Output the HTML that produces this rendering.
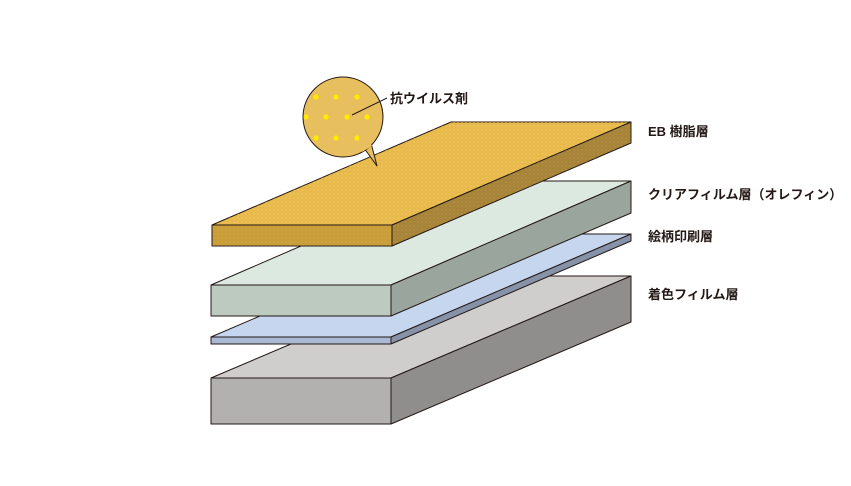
<!DOCTYPE html>
<html><head><meta charset="utf-8"><style>
html,body{margin:0;padding:0;background:#fff;}
svg text{font-family:"Liberation Sans","Noto Sans CJK JP",sans-serif;font-size:13px;fill:#231815;font-weight:bold;}
</style></head><body>
<svg width="851" height="481" viewBox="0 0 851 481" xmlns="http://www.w3.org/2000/svg">
<defs>
<pattern id="dt" width="4" height="4" patternUnits="userSpaceOnUse">
<circle cx="2" cy="2" r="0.6" fill="#f6e64a" opacity="0.7"/>
</pattern>
<pattern id="dt2" width="4" height="4" patternUnits="userSpaceOnUse">
<circle cx="2" cy="2" r="0.5" fill="#e8c84a" opacity="0.5"/>
</pattern>
</defs>
<g stroke="#231815" stroke-width="1" stroke-linejoin="round">
<polygon points="211,378 391,378 631,276 451,276" fill="#cfcecd"/>
<polygon points="211,378 391,378 391,424 211,424" fill="#b2b1b0"/>
<polygon points="391,378 631,276 631,322 391,424" fill="#8f8e8d"/>
<polygon points="211,337 391,337 631,234 451,234" fill="#c6d6ee"/>
<polygon points="211,337 391,337 391,344 211,344" fill="#a9b9d3"/>
<polygon points="391,337 631,234 631,241 391,344" fill="#8592a8"/>
<polygon points="211,285 391,285 631,181 451,181" fill="#dce9e1"/>
<polygon points="211,285 391,285 391,316 211,316" fill="#bccac0"/>
<polygon points="391,285 631,181 631,213 391,316" fill="#9aa59d"/>
<polygon points="212,225 392,225 631,122 451,122" fill="#e8b94f"/>
<polygon points="212,225 392,225 631,122 451,122" fill="url(#dt)" stroke="none"/>
<polygon points="212,225 392,225 392,246 212,246" fill="#c99e3a"/>
<polygon points="212,225 392,225 392,246 212,246" fill="url(#dt2)" stroke="none"/>
<polygon points="392,225 631,122 631,143 392,246" fill="#a8843a"/>
<polygon points="392,225 631,122 631,143 392,246" fill="url(#dt2)" stroke="none"/>
<path d="M364,148 L377,166 L371,143 Z" fill="#e8bf5f"/>
<circle cx="343" cy="117" r="40" fill="#e8bf5f"/>
<path d="M362,152 L372,146 L368,139 Z" fill="#e8bf5f" stroke="none"/>
</g>
<g fill="#ffea00">
<circle cx="316" cy="97" r="2.6"/><circle cx="336" cy="97" r="2.6"/><circle cx="357" cy="97" r="2.6"/>
<circle cx="306" cy="117" r="2.6"/><circle cx="326" cy="117" r="2.6"/><circle cx="347" cy="117" r="2.6"/><circle cx="367" cy="117" r="2.6"/>
<circle cx="316" cy="138" r="2.6"/><circle cx="336" cy="138" r="2.6"/><circle cx="357" cy="138" r="2.6"/>
</g>
<line x1="352" y1="115" x2="387" y2="98" stroke="#231815" stroke-width="1"/>
<text x="390" y="103">抗ウイルス剤</text>
<text x="648" y="136">EB 樹脂層</text>
<text x="648" y="199">クリアフィルム層（オレフィン）</text>
<text x="648" y="241">絵柄印刷層</text>
<text x="648" y="299">着色フィルム層</text>
</svg>
</body></html>
